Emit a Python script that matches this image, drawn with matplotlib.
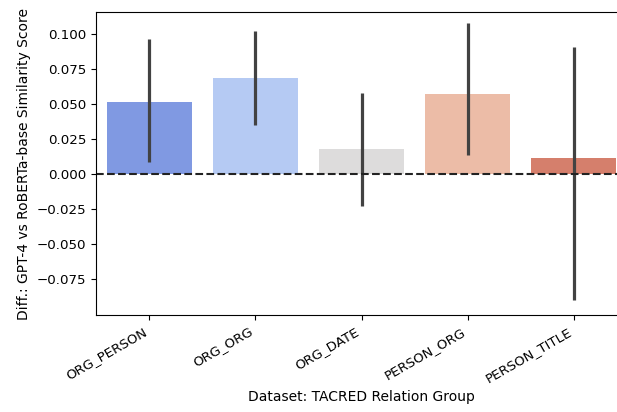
import matplotlib
matplotlib.use("Agg")
import matplotlib.pyplot as plt
import numpy as np
import seaborn as sns

# relation groups and mean differences (GPT-4 minus RoBERTa-base)
groups = ["ORG_PERSON", "ORG_ORG", "ORG_DATE", "PERSON_ORG", "PERSON_TITLE"]
means = [0.0516, 0.0683, 0.0176, 0.0574, 0.0117]
ci_low = [0.0088, 0.0350, -0.0229, 0.0136, -0.0900]
ci_high = [0.0964, 0.1024, 0.0576, 0.1076, 0.0905]

palette = [sns.desaturate(c, 0.75) for c in sns.color_palette("coolwarm", len(groups))]

plt.rcParams["font.size"] = 9.6

fig = plt.figure(figsize=(6.17, 4.12), dpi=100)
ax = fig.add_axes([96 / 617, 1 - 315 / 412, (627 - 96) / 617, (315 - 12) / 412])

x = np.arange(len(groups))
means_arr = np.array(means)
yerr = [means_arr - np.array(ci_low), np.array(ci_high) - means_arr]
ax.bar(x, means, width=0.8, color=palette)
ax.errorbar(x, means, yerr=yerr, fmt="none", ecolor="#424242", elinewidth=2.3, capsize=0)

ax.axhline(0, color="#222222", linestyle="--", linewidth=1.5)

ax.set_xlim(-0.5, len(groups) - 0.5)
ax.set_ylim(-0.1007, 0.1157)
ax.set_yticks([0.1, 0.075, 0.05, 0.025, 0.0, -0.025, -0.05, -0.075])
ax.set_xticks(x)
ax.set_xticklabels(groups, rotation=30, ha="right")

ax.set_xlabel("Dataset: TACRED Relation Group", fontsize=10)
ax.set_ylabel("Diff.: GPT-4 vs RoBERTa-base Similarity Score", fontsize=10)

fig.savefig("out.png", dpi=100)
